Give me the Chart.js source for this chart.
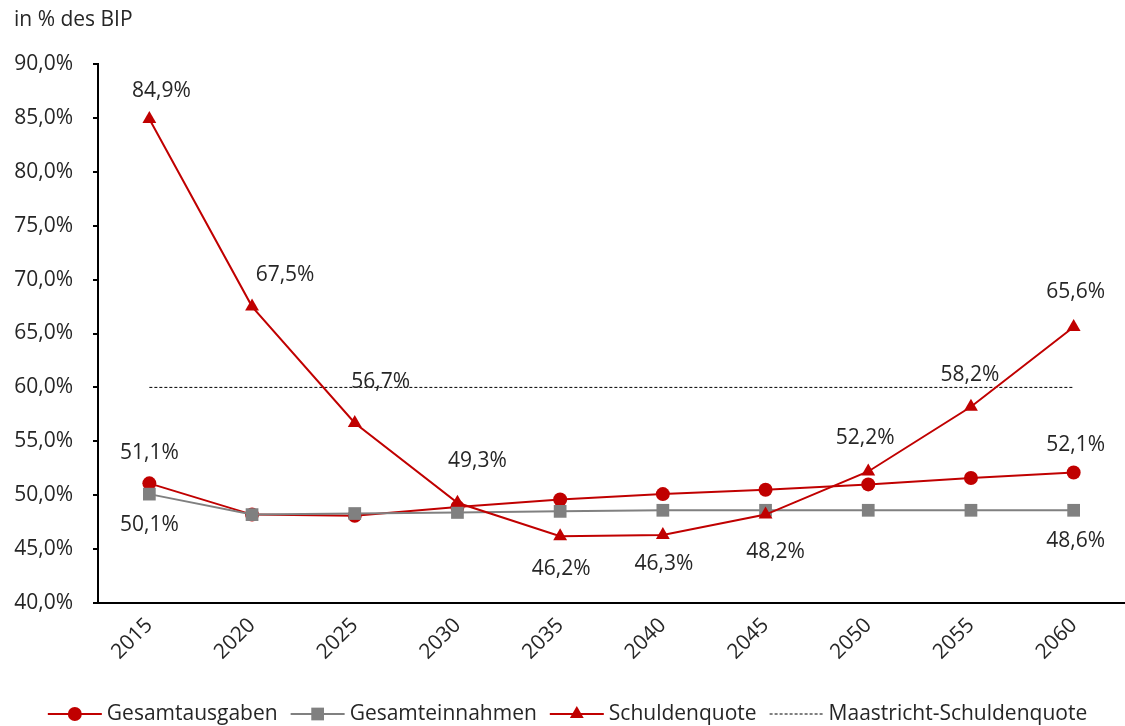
<!DOCTYPE html>
<html lang="de">
<head>
<meta charset="utf-8">
<script src="https://cdn.jsdelivr.net/npm/chart.js@4"></script>
<style>
  html, body { margin: 0; padding: 0; background: #fff; }
  #wrap { width: 1125px; height: 726px; position: relative; }
</style>
</head>
<body>
<div id="wrap"><canvas id="chart"></canvas></div>
<script>
const years = ['2015', '2020', '2025', '2030', '2035', '2040', '2045', '2050', '2055', '2060'];
const gesamtausgaben = [51.1, 48.2, 48.1, 48.9, 49.6, 50.1, 50.5, 51.0, 51.6, 52.1];
const gesamteinnahmen = [50.1, 48.2, 48.3, 48.4, 48.5, 48.6, 48.6, 48.6, 48.6, 48.6];
const schuldenquote = [84.9, 67.5, 56.7, 49.3, 46.2, 46.3, 48.2, 52.2, 58.2, 65.6];
const maastricht = [60, 60, 60, 60, 60, 60, 60, 60, 60, 60];
const yMin = 40;
const yMax = 90;
const yStep = 5;

const unitTitle = 'in % des BIP';
const FONT = '"Open Sans", "Noto Sans", sans-serif';
const FONT_SIZE = 21;
const TEXT = '#262626';
const RED = '#c00000';
const GREY = '#808080';

// which points carry a value label, and where it sits relative to the point (px)
const labelSpots = {
  0: { 0: [0, -30], 9: [2, -28] },
  1: { 0: [0, 31], 9: [2, 31] },
  2: {
    0: [12, -28], 1: [33, -32], 2: [26, -41], 3: [20, -42], 4: [1, 33],
    5: [1, 29], 6: [10, 37], 7: [-3, -33], 8: [-1, -32], 9: [2, -35],
  },
};

function formatPercent(v) {
  return v.toFixed(1).replace('.', ',') + '%';
}

const valueLabels = {
  id: 'valueLabels',
  afterDatasetsDraw(chart) {
    const { ctx } = chart;
    ctx.save();
    ctx.font = `${FONT_SIZE}px ${FONT}`;
    ctx.fillStyle = TEXT;
    ctx.textAlign = 'center';
    ctx.textBaseline = 'middle';
    Object.keys(labelSpots).forEach((dsIndex) => {
      const meta = chart.getDatasetMeta(dsIndex);
      const values = chart.data.datasets[dsIndex].data;
      Object.entries(labelSpots[dsIndex]).forEach(([i, [dx, dy]]) => {
        const pt = meta.data[i];
        ctx.fillText(formatPercent(values[i]), pt.x + dx, pt.y + dy);
      });
    });
    ctx.restore();
  },
};

const titleAndLegend = {
  id: 'titleAndLegend',
  afterDraw(chart) {
    const { ctx, width } = chart;
    ctx.save();
    ctx.font = `${FONT_SIZE}px ${FONT}`;
    ctx.fillStyle = TEXT;
    ctx.textBaseline = 'middle';
    ctx.textAlign = 'left';
    ctx.fillText(unitTitle, 14, 20);

    // legend: line sample with marker, then label
    const y = 714;
    const sample = 54;
    const gapText = 5;
    const gapItem = 13;
    const items = chart.data.datasets.map((ds) => ({ ds, w: ctx.measureText(ds.label).width }));
    const total = items.reduce((s, it) => s + sample + gapText + it.w, 0) + gapItem * (items.length - 1);
    let x = width / 2 + 5 - total / 2;
    items.forEach(({ ds, w }) => {
      ctx.save();
      ctx.strokeStyle = ds.borderColor;
      ctx.lineWidth = ds.borderWidth;
      ctx.setLineDash(ds.borderDash || []);
      ctx.beginPath();
      ctx.moveTo(x, y);
      ctx.lineTo(x + sample, y);
      ctx.stroke();
      ctx.restore();
      if (ds.pointRadius > 0) {
        ctx.fillStyle = ds.pointBackgroundColor;
        ctx.strokeStyle = ds.pointBackgroundColor;
        Chart.helpers.drawPoint(ctx, {
          pointStyle: ds.pointStyle,
          radius: ds.pointRadius,
          borderWidth: 0,
          rotation: 0,
        }, x + sample / 2, y);
      }
      ctx.fillStyle = TEXT;
      ctx.fillText(ds.label, x + sample + gapText, y);
      x += sample + gapText + w + gapItem;
    });
    ctx.restore();
  },
};

new Chart(document.getElementById('chart'), {
  type: 'line',
  data: {
    labels: years,
    datasets: [
      {
        label: 'Gesamtausgaben',
        data: gesamtausgaben,
        borderColor: RED,
        backgroundColor: RED,
        pointBackgroundColor: RED,
        pointBorderColor: RED,
        borderWidth: 2,
        pointStyle: 'circle',
        pointRadius: 7,
        pointBorderWidth: 0,
        order: 3,
      },
      {
        label: 'Gesamteinnahmen',
        data: gesamteinnahmen,
        borderColor: GREY,
        backgroundColor: GREY,
        pointBackgroundColor: GREY,
        pointBorderColor: GREY,
        borderWidth: 2,
        pointStyle: 'rect',
        pointRadius: 9,
        pointBorderWidth: 0,
        order: 2,
      },
      {
        label: 'Schuldenquote',
        data: schuldenquote,
        borderColor: RED,
        backgroundColor: RED,
        pointBackgroundColor: RED,
        pointBorderColor: RED,
        borderWidth: 2,
        pointStyle: 'triangle',
        pointRadius: 8,
        pointBorderWidth: 0,
        order: 1,
      },
      {
        label: 'Maastricht-Schuldenquote',
        data: maastricht,
        borderColor: '#000',
        backgroundColor: '#000',
        borderWidth: 1,
        borderDash: [3, 2],
        pointRadius: 0,
        order: 4,
      },
    ],
  },
  options: {
    responsive: true,
    maintainAspectRatio: false,
    animation: false,
    layout: { autoPadding: false, padding: { top: 64, right: 0, bottom: 0, left: 0 } },
    plugins: {
      legend: { display: false },
      tooltip: { enabled: false },
    },
    elements: { line: { tension: 0 } },
    scales: {
      x: {
        offset: true,
        grid: { display: false, offset: true },
        border: { color: '#000', width: 2 },
        ticks: {
          color: TEXT,
          font: { family: FONT, size: FONT_SIZE },
          minRotation: 45,
          maxRotation: 45,
          padding: 2,
        },
        afterFit(scale) {
          scale.height = 123;
          scale.paddingRight = 0;
        },
      },
      y: {
        min: yMin,
        max: yMax,
        grid: { drawOnChartArea: false, drawTicks: true, tickLength: 5, color: '#000', lineWidth: 2 },
        border: { color: '#000', width: 2 },
        ticks: {
          stepSize: yStep,
          color: TEXT,
          padding: 20,
          font: { family: FONT, size: FONT_SIZE },
          callback: (v) => formatPercent(v),
        },
        afterFit(scale) { scale.width = 98; },
      },
    },
  },
  plugins: [valueLabels, titleAndLegend],
});
</script>
</body>
</html>
